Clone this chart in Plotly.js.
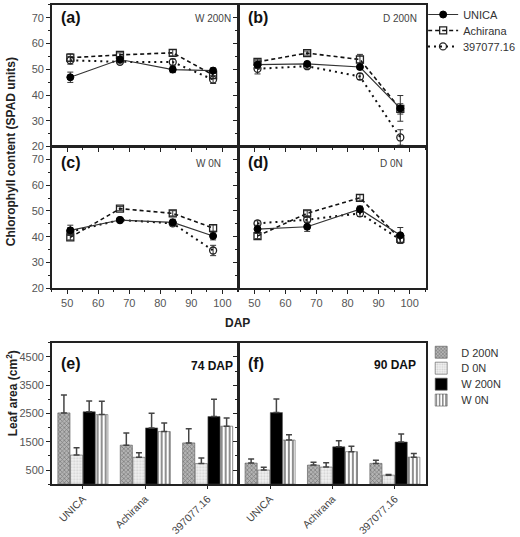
<!DOCTYPE html>
<html><head><meta charset="utf-8">
<script src="https://cdn.plot.ly/plotly-3.0.1.min.js"></script>
<style>body{margin:0;background:#fff}#chart{width:520px;height:537px}</style>
</head><body><div id="chart"></div>
<script>
// ---------- data ----------
const dap = [51, 67, 84, 97];
const seriesNames = ['UNICA', 'Achirana', '397077.16'];
// (a) W 200N
const aUnica = [46.9, 53.8, 49.9, 49.5];
const aUnicaErr = [2.0, 1.0, 1.2, 1.0];
const aAchirana = [54.5, 55.6, 56.4, 47.8];
const aAchiranaErr = [1.5, 0.8, 1.2, 1.5];
const aClone = [53.5, 52.9, 52.8, 46.0];
const aCloneErr = [1.5, 0.8, 1.2, 1.5];
// (b) D 200N
const bUnica = [51.8, 52.1, 50.9, 34.8];
const bUnicaErr = [1.5, 0.8, 1.0, 5.0];
const bAchirana = [52.9, 56.3, 53.8, 34.6];
const bAchiranaErr = [1.0, 0.8, 2.0, 2.0];
const bClone = [50.2, 51.2, 47.2, 23.5];
const bCloneErr = [2.0, 0.8, 1.2, 3.0];
// (c) W 0N
const cUnica = [42.5, 46.5, 45.6, 40.3];
const cUnicaErr = [2.0, 1.0, 1.2, 1.5];
const cAchirana = [39.8, 50.9, 49.1, 43.4];
const cAchiranaErr = [1.0, 0.8, 1.0, 1.2];
const cClone = [42.0, 46.5, 45.2, 34.7];
const cCloneErr = [1.5, 0.8, 1.0, 2.0];
// (d) D 0N
const dUnica = [43.0, 43.9, 50.7, 40.6];
const dUnicaErr = [1.5, 1.8, 1.2, 3.0];
const dAchirana = [40.3, 49.1, 55.1, 39.2];
const dAchiranaErr = [1.0, 1.0, 1.2, 1.5];
const dClone = [45.2, 46.6, 49.1, 38.9];
const dCloneErr = [1.0, 1.0, 1.2, 1.5];
// leaf area
const cultivars = ['UNICA', 'Achirana', '397077.16'];
const treatments = ['D 200N', 'D 0N', 'W 200N', 'W 0N'];
const e_D200N = [2520, 1380, 1460], e_D200N_err = [630, 430, 500];
const e_D0N = [1030, 950, 730], e_D0N_err = [260, 160, 200];
const e_W200N = [2560, 1990, 2390], e_W200N_err = [380, 520, 610];
const e_W0N = [2460, 1860, 2050], e_W0N_err = [470, 300, 290];
const f_D200N = [745, 675, 735], f_D200N_err = [150, 105, 115];
const f_D0N = [500, 605, 320], f_D0N_err = [95, 150, 20];
const f_W200N = [2530, 1320, 1490], f_W200N_err = [480, 220, 280];
const f_W0N = [1560, 1150, 955], f_W0N_err = [190, 190, 130];
const panelLabels = ['(a)', '(b)', '(c)', '(d)', '(e)', '(f)'];
const panelTags = ['W 200N', 'D 200N', 'W 0N', 'D 0N', '74 DAP', '90 DAP'];

// ---------- styles ----------
const F = 'Liberation Sans, Arial, sans-serif';
const W = 520, H = 537;
const px = v => v / W, py = v => 1 - v / H;
const lineStyles = [
  {line: {color: '#333', width: 1.2, dash: 'solid'}, marker: {symbol: 'circle', size: 7, color: '#000', line: {color: '#000', width: 1}}},
  {line: {color: '#111', width: 1.6, dash: '4px,3px'}, marker: {symbol: 'square-open', size: 7, color: '#222', line: {color: '#222', width: 1.3}}},
  {line: {color: '#111', width: 2, dash: '2px,4px'}, marker: {symbol: 'circle-open', size: 7, color: '#222', line: {color: '#222', width: 1.3}}}
];
const barStyles = [
  {color: '#a8a8a8', pattern: {shape: 'x', fgcolor: '#777', bgcolor: '#b4b4b4', size: 3, solidity: 0.4}},
  {color: '#eeeeee', pattern: {shape: '.', fgcolor: '#d0d0d0', bgcolor: '#f2f2f2', size: 3, solidity: 0.4}},
  {color: '#000000'},
  {color: '#ffffff', pattern: {shape: '|', fgcolor: '#444', bgcolor: '#ffffff', size: 4, solidity: 0.3}}
];

const traces = [];
const linePanels = [
  {xa: 'x', ya: 'y', ys: [aUnica, aAchirana, aClone], es: [aUnicaErr, aAchiranaErr, aCloneErr], leg: true},
  {xa: 'x2', ya: 'y2', ys: [bUnica, bAchirana, bClone], es: [bUnicaErr, bAchiranaErr, bCloneErr], leg: false},
  {xa: 'x3', ya: 'y3', ys: [cUnica, cAchirana, cClone], es: [cUnicaErr, cAchiranaErr, cCloneErr], leg: false},
  {xa: 'x4', ya: 'y4', ys: [dUnica, dAchirana, dClone], es: [dUnicaErr, dAchiranaErr, dCloneErr], leg: false}
];
const lineLegendIds = ['legend', 'legend2', 'legend3'];
linePanels.forEach(p => {
  [2, 1, 0].forEach(i => {
    traces.push({
      type: 'scatter', mode: 'lines+markers', x: dap, y: p.ys[i],
      name: seriesNames[i], xaxis: p.xa, yaxis: p.ya,
      showlegend: p.leg, legend: lineLegendIds[i],
      line: lineStyles[i].line, marker: lineStyles[i].marker,
      error_y: {type: 'data', array: p.es[i], visible: true, color: '#333', thickness: 1, width: 3}
    });
  });
});
const barLegendIds = ['legend4', 'legend5', 'legend6', 'legend7'];
const barPanels = [
  {xa: 'x5', ya: 'y5', vs: [e_D200N, e_D0N, e_W200N, e_W0N], es: [e_D200N_err, e_D0N_err, e_W200N_err, e_W0N_err], leg: true},
  {xa: 'x6', ya: 'y6', vs: [f_D200N, f_D0N, f_W200N, f_W0N], es: [f_D200N_err, f_D0N_err, f_W200N_err, f_W0N_err], leg: false}
];
barPanels.forEach(p => {
  p.vs.forEach((v, i) => {
    traces.push({
      type: 'bar', x: cultivars, y: v, name: treatments[i], xaxis: p.xa, yaxis: p.ya,
      showlegend: p.leg, legend: barLegendIds[i], offsetgroup: String(i),
      marker: Object.assign({line: {color: '#555', width: 0.6}}, barStyles[i]),
      error_y: {type: 'data', symmetric: false, array: p.es[i], arrayminus: v.map(() => 0), visible: true, color: '#444', thickness: 1.5, width: 3}
    });
  });
});

const tickFont = {family: F, size: 11, color: '#555'};
function ax(extra) {
  return Object.assign({
    showline: true, linecolor: '#222', linewidth: 1.5, mirror: true,
    ticks: 'outside', ticklen: 4, tickwidth: 1, tickcolor: '#222',
    showgrid: false, zeroline: false, tickfont: tickFont, fixedrange: true
  }, extra);
}
const xLine = (dom, anchor, labels) => ax({domain: dom, anchor: anchor, range: [45, 105.3], tick0: 0, dtick: 10,
  showticklabels: labels, minor: {ticks: 'outside', ticklen: 2, dtick: 5, tickcolor: '#222'}});
const yLine = (dom, anchor, labels) => ax({domain: dom, anchor: anchor, range: [20, 75], tick0: 0, dtick: 10,
  showticklabels: labels, minor: {ticks: 'outside', ticklen: 2, dtick: 5, tickcolor: '#222'}});
const xBar = (dom, anchor) => ax({domain: dom, anchor: anchor, type: 'category', range: [-0.5, 2.5], tickangle: -45,
  ticklen: 3, tickfont: {family: F, size: 10.5, color: '#444'}});
const yBar = (dom, anchor, labels) => ax({domain: dom, anchor: anchor, range: [0, 5000], tick0: 500, dtick: 1000,
  showticklabels: labels, minor: {ticks: 'outside', ticklen: 2, dtick: 500, tickcolor: '#222'}});

const colL = [px(53), px(245)], colR = [px(245), px(437)];
const rowA = [py(145), py(3)], rowC = [py(287.5), py(145)], rowE = [py(484), py(342)];

const annotations = [];
const labPos = [[60, 16], [252, 16], [60, 161], [252, 161], [60, 363], [252, 363]];
const tagPos = [[239, 17], [430, 17], [229, 162], [415, 162], [241, 365], [429, 364]];
panelLabels.forEach((t, i) => {
  annotations.push({text: '<b>' + t + '</b>', xref: 'paper', yref: 'paper', x: px(labPos[i][0]), y: py(labPos[i][1]),
    xanchor: 'left', yanchor: 'middle', showarrow: false, font: {family: F, size: 16, color: '#111'}});
  const bold = i >= 4;
  annotations.push({text: bold ? '<b>' + panelTags[i] + '</b>' : panelTags[i], xref: 'paper', yref: 'paper',
    x: px(tagPos[i][0]), y: py(tagPos[i][1]), xanchor: 'right', yanchor: 'middle', showarrow: false,
    font: {family: F, size: bold ? 12 : 10, color: bold ? '#111' : '#444'}});
});
annotations.push({text: '<b>Chlorophyll content (SPAD units)</b>', xref: 'paper', yref: 'paper', x: px(12), y: py(150),
  textangle: -90, showarrow: false, xanchor: 'center', yanchor: 'middle', font: {family: F, size: 12, color: '#222'}});
annotations.push({text: '<b>DAP</b>', xref: 'paper', yref: 'paper', x: px(244), y: py(322),
  showarrow: false, xanchor: 'center', yanchor: 'middle', font: {family: F, size: 12, color: '#222'}});
annotations.push({text: '<b>Leaf area (cm<sup>2</sup>)</b>', xref: 'paper', yref: 'paper', x: px(12), y: py(393),
  textangle: -90, showarrow: false, xanchor: 'center', yanchor: 'middle', font: {family: F, size: 12, color: '#222'}});

const legFont = {family: F, size: 11, color: '#333'};
const mkLeg = (x, yc) => ({x: px(x), y: py(yc - 14), xanchor: 'left', yanchor: 'top', bgcolor: 'rgba(0,0,0,0)',
  font: legFont, itemwidth: 30});

const layout = {
  width: W, height: H, margin: {l: 0, r: 0, t: 0, b: 0},
  paper_bgcolor: '#fff', plot_bgcolor: '#fff',
  font: {family: F, size: 11, color: '#333'},
  barmode: 'group', bargap: 0.19, bargroupgap: 0.04,
  xaxis: xLine(colL, 'y', false), yaxis: yLine(rowA, 'x', true),
  xaxis2: xLine(colR, 'y2', false), yaxis2: yLine(rowA, 'x2', false),
  xaxis3: xLine(colL, 'y3', true), yaxis3: yLine(rowC, 'x3', true),
  xaxis4: xLine(colR, 'y4', true), yaxis4: yLine(rowC, 'x4', false),
  xaxis5: xBar(colL, 'y5'), yaxis5: yBar(rowE, 'x5', true),
  xaxis6: xBar(colR, 'y6'), yaxis6: yBar(rowE, 'x6', false),
  legend: mkLeg(434, 12), legend2: mkLeg(434, 28), legend3: mkLeg(434, 44),
  legend4: mkLeg(432, 351), legend5: mkLeg(432, 367), legend6: mkLeg(432, 383), legend7: mkLeg(432, 399),
  annotations: annotations
};
Plotly.newPlot('chart', traces, layout, {staticPlot: true, displayModeBar: false});
</script></body></html>
